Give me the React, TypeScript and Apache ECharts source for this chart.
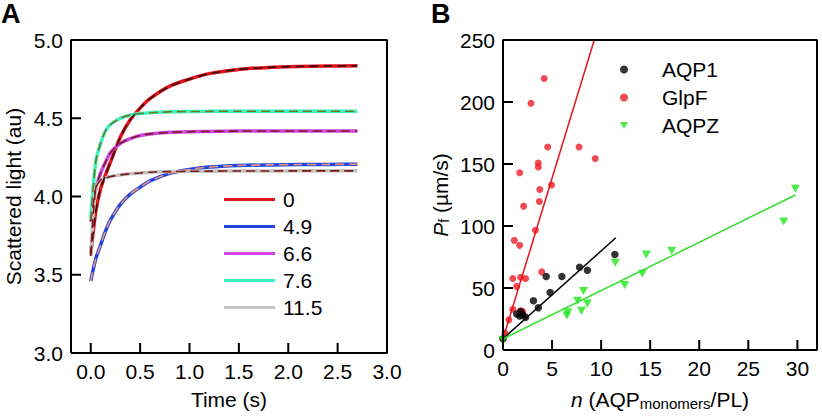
import React, { useEffect, useRef } from "react";
import * as echarts from "echarts";

// ---------- Panel A data ----------
const timeS = [0, 0.05, 0.1, 0.15, 0.2, 0.3, 0.4, 0.5, 0.6, 0.8, 1.0, 1.2, 1.5, 1.8, 2.1, 2.4, 2.7];
const concLabels = ["0", "4.9", "6.6", "7.6", "11.5"];
const light0 = [3.63, 3.9, 4.05, 4.14, 4.22, 4.38, 4.49, 4.565, 4.625, 4.705, 4.75, 4.785, 4.812, 4.825, 4.831, 4.834, 4.835];
const light49 = [3.46, 3.6, 3.69, 3.78, 3.85, 3.95, 4.015, 4.06, 4.1, 4.148, 4.173, 4.188, 4.198, 4.202, 4.204, 4.205, 4.206];
const light66 = [3.84, 4.05, 4.15, 4.22, 4.28, 4.34, 4.37, 4.39, 4.4, 4.41, 4.414, 4.416, 4.418, 4.419, 4.419, 4.419, 4.419];
const light76 = [3.85, 4.22, 4.34, 4.42, 4.46, 4.5, 4.52, 4.53, 4.535, 4.541, 4.543, 4.544, 4.545, 4.545, 4.545, 4.545, 4.545];
const light115 = [3.62, 4.05, 4.105, 4.118, 4.128, 4.138, 4.145, 4.15, 4.155, 4.159, 4.161, 4.162, 4.163, 4.163, 4.164, 4.164, 4.164];
const lightSeries = [light0, light49, light66, light76, light115];
const dataColors = ["#e3141c", "#2146e0", "#cf45df", "#3ff2c0", "#c3c3c3"];
const fitColors = ["#3a0808", "#ec9479", "#7e1a26", "#6a7a22", "#7a1a1a"];

// ---------- Panel B data ----------
const groupNames = ["AQP1", "GlpF", "AQPZ"];
const aqp1N = [0, 1.4, 1.7, 2.0, 2.3, 1.8, 3.1, 3.6, 4.4, 4.8, 6.0, 7.8, 8.6, 11.4];
const aqp1Pf = [9, 29, 27.5, 28.5, 26.5, 31, 39.7, 34, 59.3, 46.3, 59.3, 66.7, 64.3, 77];
const glpfN = [0, 0.2, 0.6, 1.0, 1.8, 2.0, 1.4, 1.0, 1.8, 2.3, 3.95, 1.15, 1.7, 3.3, 2.1, 3.7, 3.75, 4.95, 1.7, 3.6, 3.6, 4.55, 7.75, 9.4, 2.85, 4.2];
const glpfPf = [9, 13.7, 24.3, 32.8, 31.7, 31, 51.3, 57.7, 58.7, 57.7, 63, 88.4, 84.4, 96.6, 116, 119.8, 129.4, 133, 143, 147.6, 150.8, 163.7, 163.7, 154.5, 199, 219];
const aqpzN = [0, 6.5, 6.6, 8.0, 8.6, 7.6, 8.2, 12.4, 14.2, 11.45, 14.6, 17.2, 28.6, 29.8];
const aqpzPf = [8, 27.8, 30.4, 31.7, 37.5, 39.7, 47.6, 52.4, 61.7, 70.4, 77, 80, 103.7, 130];
const fitAqp1 = [[0, 9], [11.5, 90.5]];
const fitGlpf = [[0, 9], [9.3, 250]];
const fitAqpz = [[0, 9], [29.8, 125]];

// ---------- axis ranges and tick values ----------
const rangeA = { xMin: -0.2, xMax: 3.0, yMin: 3.0, yMax: 5.0 };
const rangeB = { xMin: 0, xMax: 32, yMin: 0, yMax: 250 };
const xTicksA = [0, 0.5, 1, 1.5, 2, 2.5, 3];
const yTicksA = [3, 3.5, 4, 4.5, 5];
const xTicksB = [0, 5, 10, 15, 20, 25, 30];
const yTicksB = [0, 50, 100, 150, 200, 250];

const FONT = "Liberation Sans, Arial, Helvetica, sans-serif";
const TRI_DOWN = "path://M0,0 L10,0 L5,8.5 Z";
const TICK_LEN = 10;
const GRID_A = { left: 71, top: 40, right: 435, bottom: 63 };
const GRID_B = { left: 503, top: 40, right: 5, bottom: 63 };
const W = 822;
const H = 416;

const zip = (a: number[], b: number[]) => a.map((v, i) => [v, b[i]]);

type Range = { xMin: number; xMax: number; yMin: number; yMax: number };
type Grid = { left: number; top: number; right: number; bottom: number };

// frame of a plot as a closed polyline through its axis extents
const framePoints = (r: Range) => [
  [r.xMin, r.yMin], [r.xMin, r.yMax], [r.xMax, r.yMax], [r.xMax, r.yMin], [r.xMin, r.yMin],
];

// inward tick segments (separated by gaps), length converted from pixels to axis units
const tickPoints = (r: Range, g: Grid, xt: number[], yt: number[]) => {
  const plotW = W - g.left - g.right;
  const plotH = H - g.top - g.bottom;
  const dy = (TICK_LEN / plotH) * (r.yMax - r.yMin);
  const dx = (TICK_LEN / plotW) * (r.xMax - r.xMin);
  const out: any[] = [];
  xt.forEach((v) => { out.push([v, r.yMin], [v, r.yMin + dy], "-"); });
  yt.forEach((v) => { out.push([r.xMin, v], [r.xMin + dx, v], "-"); });
  return out;
};

const strokeSeries = (name: string, idx: number, data: any[]) => ({
  name,
  type: "line",
  xAxisIndex: idx,
  yAxisIndex: idx,
  data,
  clip: false,
  silent: true,
  showSymbol: false,
  connectNulls: false,
  lineStyle: { color: "#000", width: 2 },
  z: 10,
});

export default function App() {
  const ref = useRef<HTMLDivElement>(null);
  useEffect(() => {
    if (!ref.current) return;
    const chart = echarts.init(ref.current, null, { renderer: "svg" });
    const axisCommon = {
      axisLine: { show: false, onZero: false },
      axisTick: { show: false },
      splitLine: { show: false },
      axisLabel: { show: true, color: "#000", fontSize: 21, fontFamily: FONT, margin: 8 },
      nameTextStyle: { color: "#000", fontSize: 21, fontFamily: FONT },
    };
    const series: any[] = [];
    lightSeries.forEach((vals, i) => {
      series.push({
        name: concLabels[i],
        type: "line",
        xAxisIndex: 0,
        yAxisIndex: 0,
        data: zip(timeS, vals),
        smooth: 0.3,
        showSymbol: false,
        lineStyle: { color: dataColors[i], width: 3.5 },
        itemStyle: { color: dataColors[i] },
        z: 2,
      });
    });
    lightSeries.forEach((vals, i) => {
      series.push({
        name: "fit " + concLabels[i],
        type: "line",
        xAxisIndex: 0,
        yAxisIndex: 0,
        data: zip(timeS, vals),
        smooth: 0.3,
        showSymbol: false,
        lineStyle: { color: fitColors[i], width: 1.6, type: [9, 5] },
        itemStyle: { color: fitColors[i] },
        z: 3,
      });
    });
    series.push(
      {
        name: groupNames[1], type: "scatter", xAxisIndex: 1, yAxisIndex: 1,
        data: zip(glpfN, glpfPf), symbol: "circle", symbolSize: 7,
        itemStyle: { color: "#ee1d25" }, z: 2,
      },
      {
        name: groupNames[0], type: "scatter", xAxisIndex: 1, yAxisIndex: 1,
        data: zip(aqp1N, aqp1Pf), symbol: "circle", symbolSize: 7.5,
        itemStyle: { color: "#000" }, z: 2,
      },
      {
        name: groupNames[2], type: "scatter", xAxisIndex: 1, yAxisIndex: 1,
        data: zip(aqpzN, aqpzPf), symbol: TRI_DOWN, symbolSize: [9, 8],
        itemStyle: { color: "#1ee61a" }, z: 3,
      },
      {
        name: "fit GlpF", type: "line", xAxisIndex: 1, yAxisIndex: 1, data: fitGlpf,
        showSymbol: false, lineStyle: { color: "#e3141c", width: 1.5 }, z: 4,
      },
      {
        name: "fit AQP1", type: "line", xAxisIndex: 1, yAxisIndex: 1, data: fitAqp1,
        showSymbol: false, lineStyle: { color: "#000", width: 1.5 }, z: 4,
      },
      {
        name: "fit AQPZ", type: "line", xAxisIndex: 1, yAxisIndex: 1, data: fitAqpz,
        showSymbol: false, lineStyle: { color: "#33e02a", width: 1.5 }, z: 4,
      },
      strokeSeries("frame A", 0, framePoints(rangeA)),
      strokeSeries("frame B", 1, framePoints(rangeB)),
      strokeSeries("ticks A", 0, tickPoints(rangeA, GRID_A, xTicksA, yTicksA)),
      strokeSeries("ticks B", 1, tickPoints(rangeB, GRID_B, xTicksB, yTicksB))
    );

    chart.setOption({
      animation: false,
      backgroundColor: "#fff",
      title: [
        { text: "A", left: 1, top: 0, padding: 0, textStyle: { fontSize: 27, fontWeight: "bold", color: "#000", fontFamily: FONT } },
        { text: "B", left: 431, top: 0, padding: 0, textStyle: { fontSize: 27, fontWeight: "bold", color: "#000", fontFamily: FONT } },
      ],
      grid: [GRID_A, GRID_B],
      legend: [
        {
          data: concLabels,
          orient: "vertical",
          left: 219,
          top: 184,
          icon: "rect",
          itemWidth: 51,
          itemHeight: 3,
          itemGap: 6,
          textStyle: { color: "#000", fontSize: 21, fontFamily: FONT, padding: [0, 0, 0, 3] },
        },
        {
          data: [
            { name: groupNames[0], icon: "circle" },
            { name: groupNames[1], icon: "circle" },
            { name: groupNames[2], icon: TRI_DOWN },
          ],
          orient: "vertical",
          left: 615,
          top: 54,
          itemWidth: 8,
          itemHeight: 8,
          itemGap: 7,
          textStyle: { color: "#000", fontSize: 21, fontFamily: FONT, padding: [0, 0, 0, 29] },
        },
      ],
      xAxis: [
        {
          ...axisCommon,
          gridIndex: 0, type: "value", min: rangeA.xMin, max: rangeA.xMax,
          name: "Time (s)", nameLocation: "middle", nameGap: 36,
          axisLabel: { ...axisCommon.axisLabel, customValues: xTicksA, formatter: (v: number) => v.toFixed(1) },
        },
        {
          ...axisCommon,
          gridIndex: 1, type: "value", min: rangeB.xMin, max: rangeB.xMax,
          name: "{i|n} (AQP{s|monomers}/PL)", nameLocation: "middle", nameGap: 38,
          nameTextStyle: {
            ...axisCommon.nameTextStyle,
            rich: {
              i: { fontStyle: "italic", fontSize: 21, fontFamily: FONT, color: "#000" },
              s: { fontSize: 15, fontFamily: FONT, color: "#000", verticalAlign: "bottom", padding: [8, 0, 0, 0] },
            },
          },
          axisLabel: { ...axisCommon.axisLabel, customValues: xTicksB },
        },
      ],
      yAxis: [
        {
          ...axisCommon,
          gridIndex: 0, type: "value", min: rangeA.yMin, max: rangeA.yMax, interval: 0.5,
          name: "Scattered light (au)", nameLocation: "middle", nameGap: 47,
          axisLabel: { ...axisCommon.axisLabel, formatter: (v: number) => v.toFixed(1) },
        },
        {
          ...axisCommon,
          gridIndex: 1, type: "value", min: rangeB.yMin, max: rangeB.yMax, interval: 50,
          name: "{i|P}{s|f} (µm/s)", nameLocation: "middle", nameGap: 52,
          nameTextStyle: {
            ...axisCommon.nameTextStyle,
            rich: {
              i: { fontStyle: "italic", fontSize: 21, fontFamily: FONT, color: "#000" },
              s: { fontSize: 14, fontFamily: FONT, color: "#000", verticalAlign: "bottom", padding: [8, 0, 0, 0] },
            },
          },
        },
      ],
      series,
    });

    return () => chart.dispose();
  }, []);
  return <div ref={ref} style={{ position: "fixed", left: 0, top: 0, width: 822, height: 416 }} />;
}
